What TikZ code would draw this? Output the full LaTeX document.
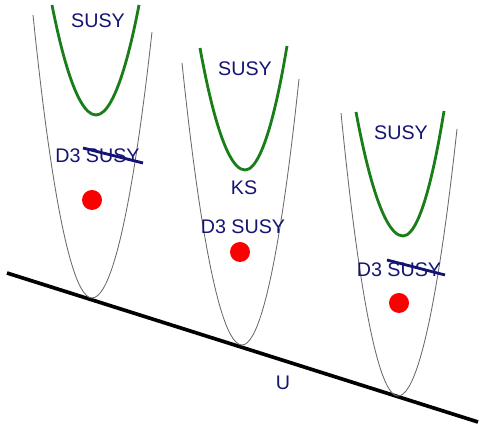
\documentclass[tikz,border=0pt]{standalone}
\usepackage{fontspec}
\setmainfont{Liberation Sans}
\definecolor{susynavy}{RGB}{20,20,115}
\definecolor{wellgreen}{RGB}{25,125,25}
\definecolor{vacred}{RGB}{250,0,0}
\definecolor{bowlgray}{RGB}{105,105,105}
\usetikzlibrary{positioning}

\begin{document}
\begin{tikzpicture}[x=0.025cm, y=-0.025cm,
  bowl/.style={bowlgray, line width=0.6pt},
  well/.style={wellgreen, line width=2pt},
  lbl/.style={text=susynavy, font=\fontsize{14}{16}\selectfont, inner sep=0pt},
  strike/.style={susynavy, line width=2pt},
  vac/.style={circle, fill=vacred, minimum size=0.5cm, inner sep=0pt}]
  \useasboundingbox (0,0) rectangle (480,425);

  % Potential in U
  \coordinate (uleft) at (7,273);
  \coordinate (uright) at (478,422);
  \draw[line width=2.6pt] (uleft) -- (uright);
  \node[lbl] (u) at (283,383) {U};

  % Left well: D3 breaks SUSY
  \draw[bowl] (33,15) parabola bend (92,298) (152,32);
  \draw[well] (52,5) parabola bend (96,115) (139,5);
  \node[lbl] (susyA) at (98,21) {SUSY};
  \node[lbl] (dthreeA) at (97.5,156) {D3 SUSY};
  \coordinate (strikeAa) at (83,148);
  \coordinate (strikeAb) at (143,163);
  \draw[strike] (strikeAa) -- (strikeAb);
  \node[vac] (vacA) at (92,200) {};

  % Middle well: KS, D3 keeps SUSY
  \draw[bowl] (182,63) parabola bend (242,345) (299,79);
  \draw[well] (200,48) parabola bend (245,170) (287,46);
  \node[lbl] (susyB) at (245,69) {SUSY};
  \node[lbl] (ks) at (244,188) {KS};
  \node[lbl] (dthreeB) at (243,227) {D3 SUSY};
  \node[vac] (vacB) at (240,252) {};

  % Right well: D3 breaks SUSY
  \draw[bowl] (341,113) parabola bend (398,396) (457,129);
  \draw[well] (356,112) parabola bend (403,236) (444,111);
  \node[lbl] (susyC) at (401,133) {SUSY};
  \node[lbl] (dthreeC) at (399,270) {D3 SUSY};
  \coordinate (strikeCa) at (387,260);
  \coordinate (strikeCb) at (445,275);
  \draw[strike] (strikeCa) -- (strikeCb);
  \node[vac] (vacC) at (399,303) {};
\end{tikzpicture}
\end{document}
